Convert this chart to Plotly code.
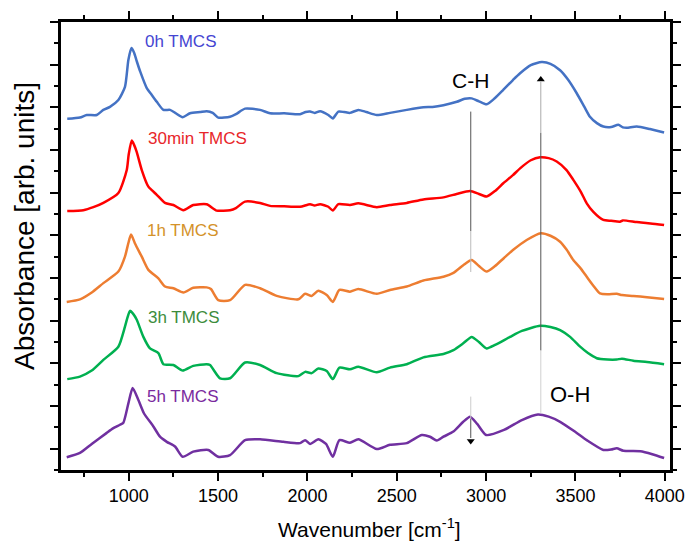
import plotly.graph_objects as go

# ---------------- data ----------------
wn_0h = [656, 727, 765, 821, 858, 895, 942, 979, 998, 1015, 1030, 1045, 1065, 1101, 1129, 1157, 1194, 1231, 1260, 1302,
         1343, 1400, 1436, 1470, 1501, 1567, 1600, 1651, 1735, 1791, 1870, 1959, 1990, 2015, 2040, 2071, 2117, 2142, 2173,
         2205, 2238, 2285, 2330, 2388, 2462, 2556, 2649, 2700, 2761, 2836, 2880, 2919, 2960, 3003, 3050, 3096, 3150, 3190,
         3250, 3311, 3360, 3414, 3460, 3507, 3550, 3581, 3620, 3656, 3700, 3740, 3765, 3787, 3843, 3917, 3996]
abs_0h = [8.23, 8.26, 8.32, 8.32, 8.44, 8.51, 8.67, 8.98, 9.61, 9.89, 9.78, 9.58, 9.33, 8.95, 8.79, 8.63, 8.44, 8.44, 8.37, 8.27,
          8.36, 8.39, 8.41, 8.37, 8.26, 8.28, 8.34, 8.47, 8.44, 8.36, 8.36, 8.34, 8.39, 8.40, 8.37, 8.41, 8.32, 8.24, 8.40,
          8.39, 8.37, 8.44, 8.39, 8.32, 8.37, 8.44, 8.50, 8.51, 8.55, 8.63, 8.70, 8.71, 8.64, 8.57, 8.72, 8.91, 9.14, 9.30,
          9.49, 9.56, 9.52, 9.37, 9.14, 8.83, 8.51, 8.28, 8.13, 8.05, 8.04, 8.09, 8.03, 8.02, 8.05, 7.99, 7.91]

wn_30min = [656, 746, 802, 858, 942, 989, 1000, 1017, 1030, 1045, 1073, 1110, 1129, 1157, 1203, 1250, 1306, 1361, 1436, 1492,
            1567, 1600, 1651, 1735, 1791, 1870, 1959, 2015, 2040, 2071, 2117, 2142, 2173, 2238, 2285, 2388, 2462, 2556, 2649,
            2761, 2835, 2910, 2960, 3003, 3050, 3096, 3150, 3190, 3250, 3302, 3350, 3395, 3450, 3488, 3530, 3563, 3600, 3656,
            3700, 3749, 3765, 3843, 3920, 3996]
abs_30min = [6.07, 6.09, 6.16, 6.26, 6.49, 7.03, 7.40, 7.72, 7.62, 7.45, 7.03, 6.64, 6.56, 6.45, 6.26, 6.21, 6.09, 6.21, 6.23, 6.08,
             6.09, 6.14, 6.29, 6.26, 6.19, 6.18, 6.17, 6.23, 6.20, 6.23, 6.17, 6.08, 6.23, 6.21, 6.25, 6.16, 6.21, 6.26, 6.34,
             6.39, 6.47, 6.54, 6.47, 6.41, 6.54, 6.72, 6.91, 7.07, 7.26, 7.33, 7.31, 7.23, 7.03, 6.80, 6.52, 6.25, 6.05, 5.86,
             5.84, 5.82, 5.85, 5.81, 5.78, 5.74]

wn_1h = [653, 727, 793, 858, 942, 979, 998, 1013, 1035, 1073, 1110, 1166, 1203, 1250, 1306, 1361, 1436, 1460, 1501, 1567,
         1651, 1735, 1828, 1949, 1987, 2024, 2061, 2108, 2142, 2179, 2238, 2285, 2388, 2462, 2556, 2649, 2761, 2817, 2872,
         2919, 2960, 3003, 3050, 3100, 3152, 3227, 3306, 3360, 3414, 3451, 3488, 3530, 3563, 3600, 3637, 3680, 3731, 3760,
         3824, 3900, 3996]
abs_1h = [3.94, 4.00, 4.16, 4.38, 4.65, 5.00, 5.32, 5.52, 5.31, 5.00, 4.69, 4.49, 4.30, 4.26, 4.16, 4.27, 4.28, 4.24, 3.98, 3.98,
          4.34, 4.26, 4.08, 4.00, 4.13, 4.08, 4.20, 4.10, 3.94, 4.22, 4.18, 4.24, 4.13, 4.22, 4.30, 4.44, 4.53, 4.62, 4.80,
          4.92, 4.78, 4.65, 4.78, 4.97, 5.16, 5.39, 5.55, 5.49, 5.35, 5.16, 4.92, 4.72, 4.53, 4.32, 4.14, 4.12, 4.13, 4.10,
          4.08, 4.05, 4.01]

wn_3h = [656, 727, 793, 858, 942, 979, 992, 1007, 1025, 1045, 1082, 1119, 1166, 1194, 1250, 1302, 1361, 1436, 1455, 1511,
         1567, 1651, 1735, 1828, 1949, 1987, 2024, 2061, 2108, 2142, 2179, 2238, 2285, 2388, 2462, 2556, 2649, 2761, 2817,
         2872, 2919, 2960, 3003, 3050, 3134, 3200, 3302, 3360, 3414, 3470, 3526, 3570, 3619, 3680, 3731, 3760, 3824, 3900,
         3996]
abs_3h = [2.13, 2.19, 2.33, 2.58, 2.89, 3.36, 3.56, 3.73, 3.66, 3.52, 3.12, 2.85, 2.74, 2.48, 2.46, 2.33, 2.44, 2.48, 2.46, 2.15,
          2.15, 2.52, 2.46, 2.27, 2.20, 2.30, 2.27, 2.38, 2.32, 2.13, 2.40, 2.36, 2.42, 2.29, 2.40, 2.48, 2.64, 2.72, 2.81,
          2.97, 3.12, 3.00, 2.85, 2.93, 3.12, 3.26, 3.38, 3.35, 3.28, 3.12, 2.89, 2.74, 2.62, 2.59, 2.59, 2.61, 2.56, 2.53,
          2.48]

wn_5h = [653, 727, 793, 877, 914, 951, 970, 998, 1022, 1054, 1085, 1138, 1175, 1213, 1259, 1302, 1361, 1445, 1501, 1567,
         1651, 1735, 1865, 1959, 1987, 2015, 2061, 2104, 2142, 2179, 2238, 2285, 2388, 2462, 2556, 2640, 2686, 2724, 2761,
         2817, 2872, 2910, 2950, 3000, 3100, 3200, 3290, 3350, 3414, 3500, 3563, 3656, 3700, 3731, 3768, 3863, 3930, 3996]
abs_5h = [0.30, 0.40, 0.61, 0.87, 0.98, 1.06, 1.11, 1.56, 1.92, 1.64, 1.33, 1.02, 0.78, 0.66, 0.55, 0.31, 0.43, 0.47, 0.31, 0.35,
          0.70, 0.72, 0.66, 0.63, 0.70, 0.61, 0.72, 0.61, 0.31, 0.70, 0.64, 0.72, 0.49, 0.59, 0.63, 0.82, 0.78, 0.69, 0.78,
          0.90, 1.13, 1.25, 1.08, 0.82, 0.94, 1.17, 1.30, 1.25, 1.13, 0.89, 0.70, 0.47, 0.48, 0.51, 0.45, 0.44, 0.37, 0.28]

series_names = ["0h TMCS", "30min TMCS", "1h TMCS", "3h TMCS", "5h TMCS"]
line_colors = ["#4472C4", "#FF0000", "#ED7D31", "#00B050", "#7030A0"]
label_colors = ["#4545D2", "#E8262A", "#D4922A", "#3C8C3C", "#7A2A9E"]

# label anchor positions (wavenumber, absorbance) for the series names
label_x = [1082, 1097, 1091, 1095, 1091]
label_y = [10.04, 7.77, 5.62, 3.57, 1.73]

# band annotations
ch_wn = 2914
oh_wn = 3306

FONT = "Liberation Sans, Arial, sans-serif"

xs = [wn_0h, wn_30min, wn_1h, wn_3h, wn_5h]
ys = [abs_0h, abs_30min, abs_1h, abs_3h, abs_5h]

fig = go.Figure()
for x, y, name, c in zip(xs, ys, series_names, line_colors):
    fig.add_trace(go.Scatter(x=x, y=y, mode="lines", name=name,
                             line=dict(color=c, width=2.5, shape="spline", smoothing=0.6),
                             showlegend=False))

# arrow heads of the C-H (down) and O-H (up) guide arrows
fig.add_trace(go.Scatter(x=[ch_wn, oh_wn], y=[0.68, 9.15], mode="markers", showlegend=False,
                         hoverinfo="skip",
                         marker=dict(symbol=["triangle-down", "triangle-up"], size=7, color="black",
                                     line=dict(width=0))))

annotations = []
for name, c, lx, ly in zip(series_names, label_colors, label_x, label_y):
    annotations.append(dict(x=lx, y=ly, xref="x", yref="y", text=name, showarrow=False,
                            xanchor="left", yanchor="middle",
                            font=dict(family=FONT, size=17, color=c)))

annotations += [
    dict(x=ch_wn, y=9.14, xref="x", yref="y", text="C-H", showarrow=False,
         xanchor="center", yanchor="middle", font=dict(family=FONT, size=21, color="black")),
    dict(x=3470, y=1.76, xref="x", yref="y", text="O-H", showarrow=False,
         xanchor="center", yanchor="middle", font=dict(family=FONT, size=22, color="black")),
    # axis titles
    dict(x=0.506, y=-0.129, xref="paper", yref="paper", text="Wavenumber [cm<sup>-1</sup>]",
         showarrow=False, xanchor="center", yanchor="middle", font=dict(family=FONT, size=21, color="black")),
    dict(x=-0.059, y=0.545, xref="paper", yref="paper", text="Absorbance [arb. units]", textangle=-90,
         showarrow=False, xanchor="center", yanchor="middle", font=dict(family=FONT, size=28, color="black")),
]

shapes = [
    # C-H guide line (fading)
    dict(type="line", xref="x", yref="y", x0=ch_wn, x1=ch_wn, y0=8.40, y1=5.6, line=dict(color="#555555", width=1)),
    dict(type="line", xref="x", yref="y", x0=ch_wn, x1=ch_wn, y0=5.6, y1=4.64, line=dict(color="#bbbbbb", width=1)),
    dict(type="line", xref="x", yref="y", x0=ch_wn, x1=ch_wn, y0=1.72, y1=1.2, line=dict(color="#cccccc", width=1)),
    dict(type="line", xref="x", yref="y", x0=ch_wn, x1=ch_wn, y0=1.2, y1=0.75, line=dict(color="#555555", width=1)),
    # O-H guide line
    dict(type="line", xref="x", yref="y", x0=oh_wn, x1=oh_wn, y0=9.1, y1=7.9, line=dict(color="#aaaaaa", width=1)),
    dict(type="line", xref="x", yref="y", x0=oh_wn, x1=oh_wn, y0=7.9, y1=2.8, line=dict(color="#555555", width=1)),
    dict(type="line", xref="x", yref="y", x0=oh_wn, x1=oh_wn, y0=2.8, y1=1.34, line=dict(color="#d0d0d0", width=1)),
]

axis_common = dict(showline=True, linewidth=2.5, linecolor="black", mirror="allticks",
                   ticks="outside", ticklen=8, tickwidth=2, tickcolor="black",
                   showgrid=False, zeroline=False, automargin=False)

fig.update_layout(
    width=688, height=541, autosize=False,
    margin=dict(l=61, r=18, t=22, b=71, pad=0, autoexpand=False),
    paper_bgcolor="white", plot_bgcolor="white",
    font=dict(family=FONT, color="black"),
    hovermode=False,
    xaxis=dict(range=[621, 4029], tickmode="linear", tick0=0, dtick=500,
               tickfont=dict(family=FONT, size=18, color="black"),
               minor=dict(ticks="outside", ticklen=4, tickwidth=2, tickcolor="black", dtick=250, tick0=0),
               **axis_common),
    yaxis=dict(range=[0, 10.5], tickmode="linear", tick0=0.5, dtick=1, showticklabels=False,
               minor=dict(ticks="outside", ticklen=4, tickwidth=2, tickcolor="black", dtick=0.5, tick0=0),
               **axis_common),
    annotations=annotations,
    shapes=shapes,
)

fig.write_html("out.html", config={"displayModeBar": False},
               post_script="document.body.style.margin='0';document.body.style.overflow='hidden';")
